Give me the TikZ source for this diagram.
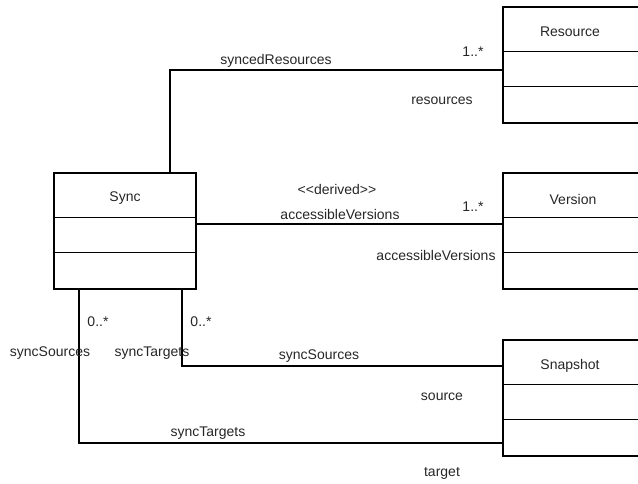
\documentclass[tikz,border=0pt]{standalone}
\usepackage{fontspec}
\setmainfont{Liberation Sans}
\usetikzlibrary{calc}
\tikzset{
  cls/.style={draw, line width=1.7pt, minimum width=142pt, minimum height=116pt, inner sep=0pt},
  assoc/.style={draw, line width=1.2pt},
  lbl/.style={inner sep=0pt, text=black!85}
}
\begin{document}
\begin{tikzpicture}[x=1pt,y=-1pt]
\fontsize{14}{16}\selectfont
\useasboundingbox (0,0) rectangle (638,483);
\clip (0,0) rectangle (638,483);
\node[cls] (sync) at (125,231) {};
\node[cls] (res) at (574,65) {};
\node[cls] (ver) at (574,231) {};
\node[cls] (snap) at (574,398) {};

\foreach \c in {sync,res,ver,snap} {
  \path[draw,line width=1.2pt] ($(\c.north west)+(0,45)$) -- ($(\c.north east)+(0,45)$);
  \path[draw,line width=1.2pt] ($(\c.north west)+(0,80)$) -- ($(\c.north east)+(0,80)$);
}

\node[lbl] (syncname) at ($(sync.north)+(0,26)$) {Sync};
\node[lbl] (resname) at (570,32) {Resource};
\node[lbl] (vername) at (573,199) {Version};
\node[lbl] (snapname) at (570,366) {Snapshot};

\path[assoc] ($(sync.north)+(45,0)$) |- ($(res.west)+(0,5)$);
\path[assoc] ($(sync.east)+(0,-7)$) -- ($(ver.west)+(0,-7)$);
\path[assoc] ($(sync.south)+(57,0)$) |- ($(snap.west)+(0,-32)$);
\path[assoc] ($(sync.south)+(-46,0)$) |- ($(snap.west)+(0,45)$);

\node[lbl] (l1) at (276,61) {syncedResources};
\node[lbl] (m1) at (473,52) {1..*};
\node[lbl] (r1) at (442,101) {resources};
\node[lbl] (st) at (337,189) {<{}<derived>{}>};
\node[lbl] (l2) at (340,214) {accessibleVersions};
\node[lbl] (m2) at (473,207) {1..*};
\node[lbl] (r2) at (436,255) {accessibleVersions};
\node[lbl] (m3) at (98,322) {0..*};
\node[lbl] (m4) at (201,322) {0..*};
\node[lbl] (r3) at (50,353) {syncSources};
\node[lbl] (r4) at (152,353) {syncTargets};
\node[lbl] (l3) at (319,356) {syncSources};
\node[lbl] (r5) at (442,397) {source};
\node[lbl] (l4) at (208,433) {syncTargets};
\node[lbl] (r6) at (442,473) {target};
\end{tikzpicture}
\end{document}
